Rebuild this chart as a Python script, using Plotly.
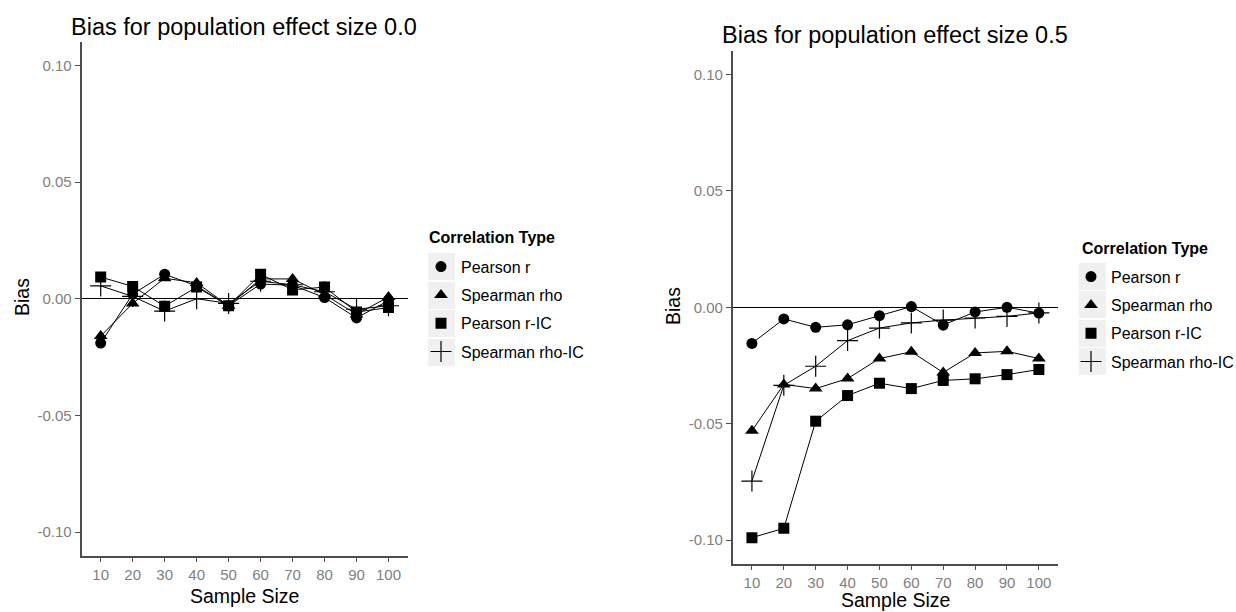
import plotly.graph_objects as go

sample_sizes = [10, 20, 30, 40, 50, 60, 70, 80, 90, 100]
series_names = ["Pearson r", "Spearman rho", "Pearson r-IC", "Spearman rho-IC"]

# Population effect size 0.0
bias00_pearson = [-0.019, 0.002, 0.0105, 0.0055, -0.003, 0.0063, 0.0058, 0.0005, -0.0082, -0.0008]
bias00_spearman = [-0.016, -0.002, 0.0088, 0.0068, -0.003, 0.0085, 0.0085, 0.0018, -0.0067, 0.0008]
bias00_pearson_ic = [0.0093, 0.0053, -0.0032, 0.005, -0.003, 0.0105, 0.0038, 0.005, -0.0057, -0.0038]
bias00_spearman_ic = [0.0055, 0.001, -0.0053, 0.0, -0.002, 0.0075, 0.006, 0.003, -0.0045, -0.003]

# Population effect size 0.5
bias05_pearson = [-0.0155, -0.005, -0.0086, -0.0075, -0.0036, 0.0003, -0.0076, -0.002, 0.0, -0.0025]
bias05_spearman = [-0.053, -0.0331, -0.0349, -0.0306, -0.022, -0.0191, -0.028, -0.0196, -0.0189, -0.022]
bias05_pearson_ic = [-0.0989, -0.0949, -0.0489, -0.0379, -0.0326, -0.0349, -0.0314, -0.0307, -0.0289, -0.0267]
bias05_spearman_ic = [-0.0746, -0.0335, -0.0253, -0.0143, -0.0089, -0.0067, -0.0055, -0.0046, -0.0039, -0.0024]

y_ticks = [-0.10, -0.05, 0.00, 0.05, 0.10]
y_tick_text = ["-0.10", "-0.05", "0.00", "0.05", "0.10"]

W, H = 1236, 612
FONT = "Liberation Sans, Arial, sans-serif"

def px(x):
    return x / W

def py(y):
    return 1 - y / H

symbols = [
    dict(symbol="circle", size=11),
    dict(symbol="triangle-up", size=12),
    dict(symbol="square", size=11),
    dict(symbol="cross-thin", size=15),
]

fig = go.Figure()

panels = [
    ("x", "y", "legend", [bias00_pearson, bias00_spearman, bias00_pearson_ic, bias00_spearman_ic]),
    ("x2", "y2", "legend2", [bias05_pearson, bias05_spearman, bias05_pearson_ic, bias05_spearman_ic]),
]

for xa, ya, lg, data in panels:
    # connecting lines (no legend entry)
    for name, vals in zip(series_names, data):
        fig.add_trace(go.Scatter(
            x=sample_sizes, y=vals, mode="lines", name=name, showlegend=False,
            line=dict(color="black", width=1), xaxis=xa, yaxis=ya, hoverinfo="skip",
        ))
    # point markers (legend shows the shapes only)
    for name, vals, sym in zip(series_names, data, symbols):
        marker = dict(symbol=sym["symbol"], size=sym["size"], color="black",
                      line=dict(color="black", width=1.2 if sym["symbol"] == "cross-thin" else 0))
        fig.add_trace(go.Scatter(
            x=sample_sizes, y=vals, mode="markers", name=name, marker=marker,
            xaxis=xa, yaxis=ya, legend=lg, legendgroup=lg + name,
        ))

axis_common = dict(
    showgrid=False, showline=True, linecolor="#4d4d4d", linewidth=1.8,
    ticks="outside", ticklen=5, tickcolor="#4d4d4d", tickwidth=1,
    tickfont=dict(family=FONT, size=15, color="#808080"),
)

legend_common = dict(
    xanchor="left", yanchor="top", bgcolor="rgba(0,0,0,0)",
    font=dict(family=FONT, size=16, color="black"),
    traceorder="grouped", tracegroupgap=4.5, itemclick=False,
)

fig.update_layout(
    width=W, height=H,
    margin=dict(l=0, r=0, t=0, b=0, autoexpand=False),
    paper_bgcolor="white", plot_bgcolor="white",
    xaxis=dict(domain=[px(81.5), px(407.7)], anchor="y", range=[4, 106],
               tickvals=sample_sizes, zeroline=False, **axis_common),
    yaxis=dict(domain=[py(555.5), py(42)], anchor="x", range=[-0.11, 0.11],
               tickvals=y_ticks, ticktext=y_tick_text, zeroline=True,
               zerolinecolor="black", zerolinewidth=1, **axis_common),
    xaxis2=dict(domain=[px(732.8), px(1058)], anchor="y2", range=[4, 106],
                tickvals=sample_sizes, zeroline=False, **axis_common),
    yaxis2=dict(domain=[py(563.5), py(51.1)], anchor="x2", range=[-0.11, 0.11],
                tickvals=y_ticks, ticktext=y_tick_text, zeroline=True,
                zerolinecolor="black", zerolinewidth=1, **axis_common),
    legend=dict(x=px(421), y=py(249.7), **legend_common),
    legend2=dict(x=px(1071), y=py(259.7), **legend_common),
    showlegend=True,
)

# Titles and axis titles
annos = [
    dict(text="Bias for population effect size 0.0", x=px(68.5), y=py(27), xanchor="left", size=23.5),
    dict(text="Bias for population effect size 0.5", x=px(720.5), y=py(35), xanchor="left", size=23.5),
    dict(text="Sample Size", x=px(244.6), y=py(596), xanchor="center", size=19.5),
    dict(text="Sample Size", x=px(895), y=py(600), xanchor="center", size=19.5),
    dict(text="<b>Correlation Type</b>", x=px(426.5), y=py(238), xanchor="left", size=16),
    dict(text="<b>Correlation Type</b>", x=px(1080), y=py(248), xanchor="left", size=16),
]
for a in annos:
    fig.add_annotation(text=a["text"], x=a["x"], y=a["y"], xref="paper", yref="paper",
                       xanchor=a["xanchor"], yanchor="middle", showarrow=False,
                       font=dict(family=FONT, size=a["size"], color="black"))
for xx, yy in [(22, 297), (673, 306)]:
    fig.add_annotation(text="Bias", x=px(xx), y=py(yy), xref="paper", yref="paper",
                       xanchor="center", yanchor="middle", showarrow=False, textangle=-90,
                       font=dict(family=FONT, size=19.5, color="black"))

# Grey key backgrounds for the legends
for x0, x1, tops in [(428, 455, [253, 282, 310, 339]), (1079, 1106, [263, 291, 320, 348])]:
    for t in tops:
        fig.add_shape(type="rect", xref="paper", yref="paper", x0=px(x0), x1=px(x1),
                      y0=py(t + 27), y1=py(t), fillcolor="#f0f0f0", line=dict(width=0), layer="below")

fig.write_html("out.html", config={"displayModeBar": False},
               post_script="document.body.style.margin='0';document.body.style.overflow='hidden';")
